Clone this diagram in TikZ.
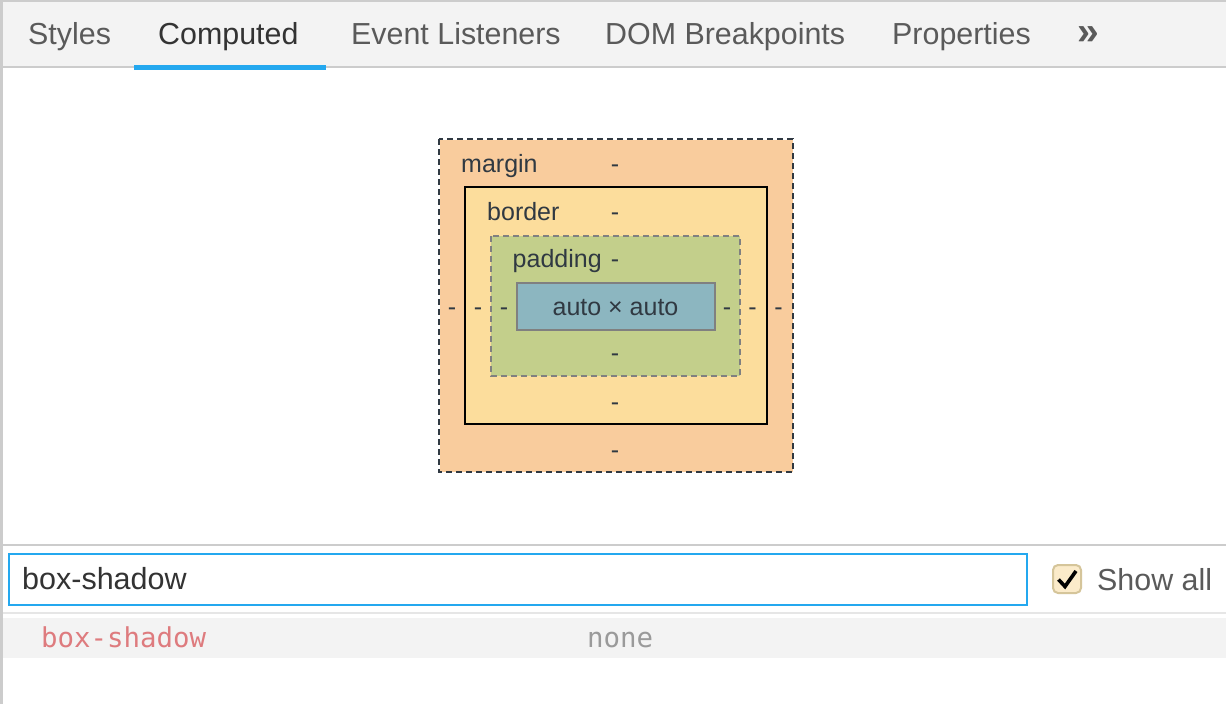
\documentclass[tikz,border=0pt]{standalone}
\usepackage{fontspec}
\setmainfont{Liberation Sans}
\newfontfamily\monofam{DejaVu Sans Mono}
\definecolor{tabbg}{HTML}{F3F3F3}
\definecolor{linegray}{HTML}{CCCCCC}
\definecolor{lightline}{HTML}{E6E6E6}
\definecolor{accent}{HTML}{24A8EF}
\definecolor{tabtext}{HTML}{5A5A5A}
\definecolor{tabactive}{HTML}{333333}
\definecolor{boxtext}{HTML}{303942}
\definecolor{marginfill}{HTML}{F9CC9D}
\definecolor{borderfill}{HTML}{FCDD9C}
\definecolor{paddingfill}{HTML}{C3CF8B}
\definecolor{contentfill}{HTML}{8CB6C0}
\definecolor{midgray}{HTML}{808080}
\definecolor{chkfill}{HTML}{FBEBCA}
\definecolor{chkborder}{HTML}{D5C59A}
\definecolor{propred}{HTML}{DE7B7E}
\definecolor{valgray}{HTML}{9A9A9A}
\tikzset{
  tabtxt/.style={inner sep=0pt, anchor=base west, text=tabtext, font=\fontsize{30.4}{36}\selectfont},
  boxtxt/.style={inner sep=0pt, anchor=base west, text=boxtext, font=\fontsize{25}{30}\selectfont},
  dashtxt/.style={inner sep=0pt, anchor=base, text=boxtext, font=\fontsize{25}{30}\selectfont},
}
\begin{document}
\begin{tikzpicture}[x=1pt,y=-1pt]
\useasboundingbox (0,0) rectangle (1226,704);
\fill[white] (0,0) rectangle (1226,704);
% tab bar
\fill[tabbg] (0,0) rectangle (1226,67);
\fill[linegray] (0,0) rectangle (1226,2);
\fill[linegray] (0,66) rectangle (1226,68);
\fill[linegray] (0,0) rectangle (3,704);
\fill[accent] (134,64.5) rectangle (326,69.5);
\node[tabtxt] (tstyles) at (28,44) {Styles};
\node[tabtxt, text=tabactive] (tcomputed) at (158,44) {Computed};
\node[tabtxt] (tevents) at (351,44) {Event Listeners};
\node[tabtxt] (tdom) at (605,44) {DOM Breakpoints};
\node[tabtxt] (tprops) at (892,44) {Properties};
\node[inner sep=0pt, anchor=base west, text=tabtext, font=\fontsize{39}{40}\selectfont\bfseries] (tmore) at (1077,44) {»};
% box model
\draw[marginfill!0, fill=marginfill] (439,139) rectangle (793,472);
\draw[boxtext, line width=1.6pt, dash pattern=on 6pt off 4pt] (439,139) rectangle (793,472);
\draw[black, line width=2.2pt, fill=borderfill] (465,187) rectangle (767,424);
\draw[midgray, line width=1.8pt, dash pattern=on 6pt off 4pt, fill=paddingfill] (491,236) rectangle (740,376);
\draw[midgray, line width=2pt, fill=contentfill] (517,283) rectangle (715,330);
\node[boxtxt] (lmargin) at (461,172) {margin};
\node[boxtxt] (lborder) at (487,220) {border};
\node[boxtxt] (lpadding) at (512.5,267.5) {padding};
\node[dashtxt] (mtop) at (615,172) {-};
\node[dashtxt] (btop) at (615,220) {-};
\node[dashtxt] (ptop) at (615,267.5) {-};
\node[inner sep=0pt, anchor=base, text=boxtext, font=\fontsize{25}{30}\selectfont] (content) at (615.5,315) {auto × auto};
\node[dashtxt] (mleft) at (452,315) {-};
\node[dashtxt] (bleft) at (478,315) {-};
\node[dashtxt] (pleft) at (504,315) {-};
\node[dashtxt] (pright) at (727,315) {-};
\node[dashtxt] (bright) at (752.5,315) {-};
\node[dashtxt] (mright) at (778.5,315) {-};
\node[dashtxt] (pbot) at (615,361.5) {-};
\node[dashtxt] (bbot) at (615,410) {-};
\node[dashtxt] (mbot) at (615,458) {-};
% filter section
\fill[linegray] (3,544) rectangle (1226,546);
\draw[accent, line width=2pt] (9,553.5) rectangle (1027,605);
\node[inner sep=0pt, anchor=base west, text=tabactive, font=\fontsize{30.5}{36}\selectfont] (filter) at (22,589) {box-shadow};
\draw[chkborder, line width=2pt, fill=chkfill, rounded corners=5pt] (1053,565) rectangle (1081,593);
\coordinate (ck1) at (1058.5,579.5);
\coordinate (ck2) at (1065,586.5);
\coordinate (ck3) at (1076,571);
\draw[black, line width=3.6pt, line join=miter] (ck1) -- (ck2) -- (ck3);
\node[tabtxt] (showall) at (1097,590) {Show all};
\fill[lightline] (3,612) rectangle (1226,614);
\fill[tabbg] (3,618) rectangle (1226,658);
\node[inner sep=0pt, anchor=base west, text=propred, font=\fontsize{27.4}{32}\monofam] (prop) at (41,647) {box-shadow};
\node[inner sep=0pt, anchor=base west, text=valgray, font=\fontsize{27.4}{32}\monofam] (val) at (587,647) {none};
\end{tikzpicture}
\end{document}
